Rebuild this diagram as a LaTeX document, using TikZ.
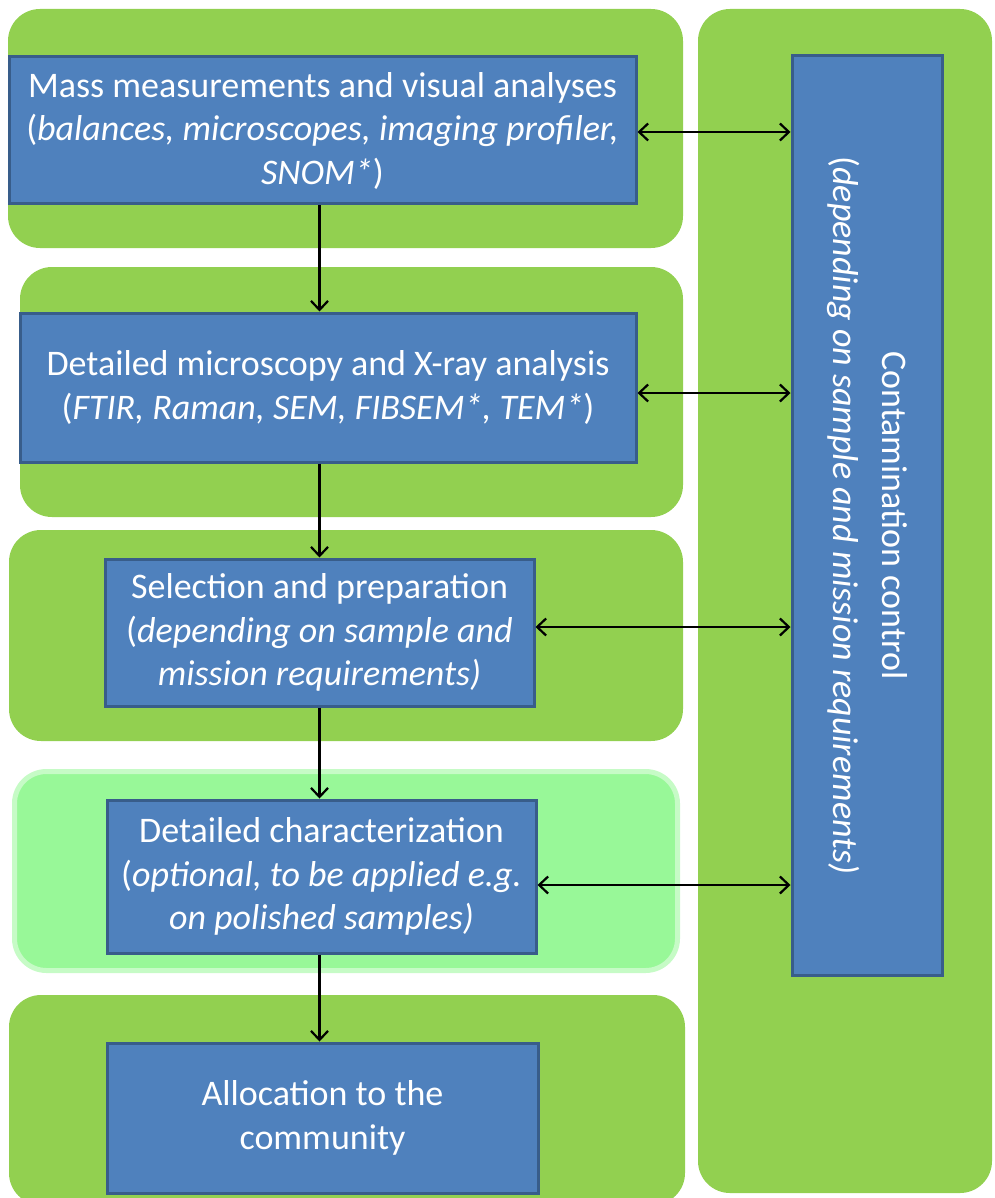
\documentclass[tikz,border=0pt]{standalone}
\usepackage{fontspec}
\setmainfont{Carlito}
\usetikzlibrary{arrows.meta}
\definecolor{pgreen}{HTML}{92D050}
\definecolor{plight}{HTML}{98F898}
\definecolor{bfill}{HTML}{4F81BD}
\definecolor{bline}{HTML}{385D8A}
\begin{document}
\begin{tikzpicture}[x=1pt,y=-1pt,
  panel/.style={fill=pgreen, rounded corners=32pt, inner sep=0pt, draw=none},
  lightpanel/.style={fill=plight, draw=plight!55!white, line width=5pt, rounded corners=32pt, inner sep=0pt},
  bluebox/.style={draw=bline, line width=3pt, fill=bfill, text=white, align=center, inner sep=0pt,
    font=\fontsize{36}{43.5}\selectfont},
  ctrlbox/.style={bluebox, font=\fontsize{36}{49}\selectfont},
  arr/.style={line width=2.2pt, -{Straight Barb[length=9pt,width=17pt]}},
  darr/.style={line width=2.2pt, {Straight Barb[length=9pt,width=17pt]}-{Straight Barb[length=9pt,width=17pt]}}]
\useasboundingbox (0,0) rectangle (994,1198);
\clip (0,0) rectangle (994,1198);
% background panels
\node[panel, minimum width=675pt, minimum height=239pt] (p1) at (345.5,128.5) {};
\node[panel, minimum width=663pt, minimum height=250pt] (p2) at (351.5,392) {};
\node[panel, minimum width=674pt, minimum height=211pt] (p3) at (346,635.5) {};
\node[lightpanel, minimum width=663pt, minimum height=199pt] (p4) at (346,871) {};
\node[panel, minimum width=676pt, minimum height=210pt] (p5) at (347,1100) {};
\node[panel, minimum width=294pt, minimum height=1184pt] (pr) at (845,601) {};
% boxes
\node[bluebox, minimum width=627pt, minimum height=147pt] (b1) at (322.5,130.5)
  {Mass measurements and visual analyses\\(\textit{balances, microscopes, imaging profiler,}\\\textit{SNOM*})};
\node[bluebox, minimum width=616pt, minimum height=149pt] (b2) at (328,387.5)
  {Detailed microscopy and X-ray analysis\\(\textit{FTIR, Raman, SEM, FIBSEM*, TEM*})};
\node[bluebox, minimum width=429pt, minimum height=147pt] (b3) at (319.5,632.5)
  {Selection and preparation\\(\textit{depending on sample and}\\\textit{mission requirements)}};
\node[bluebox, minimum width=429pt, minimum height=153pt] (b4) at (321.5,876.5)
  {Detailed characterization\\(\textit{optional, to be applied e.g.}\\\textit{on polished samples)}};
\node[bluebox, minimum width=431pt, minimum height=150pt] (b5) at (322.5,1118)
  {Allocation to the\\community};
\node[ctrlbox, rotate=-90, minimum width=919pt, minimum height=150pt] (ctrl) at (867,515.5)
  {Contamination control\\(\textit{depending on sample and mission requirements)}};
% vertical flow
\draw[arr] (b1.south -| b3.south) -- (b2.north -| b3.south);
\draw[arr] (b2.south -| b3.south) -- (b3.north);
\draw[arr] (b3.south) -- (b4.north -| b3.south);
\draw[arr] (b4.south -| b3.south) -- (b5.north -| b3.south);
% links to contamination control
\draw[darr] ([yshift=-1.5pt]b1.east) -- ([yshift=-1.5pt]b1.east -| ctrl.south);
\draw[darr] ([yshift=-5.5pt]b2.east) -- ([yshift=-5.5pt]b2.east -| ctrl.south);
\draw[darr] ([yshift=5.5pt]b3.east) -- ([yshift=5.5pt]b3.east -| ctrl.south);
\draw[darr] ([yshift=-8.5pt]b4.east) -- ([yshift=-8.5pt]b4.east -| ctrl.south);
\end{tikzpicture}
\end{document}
